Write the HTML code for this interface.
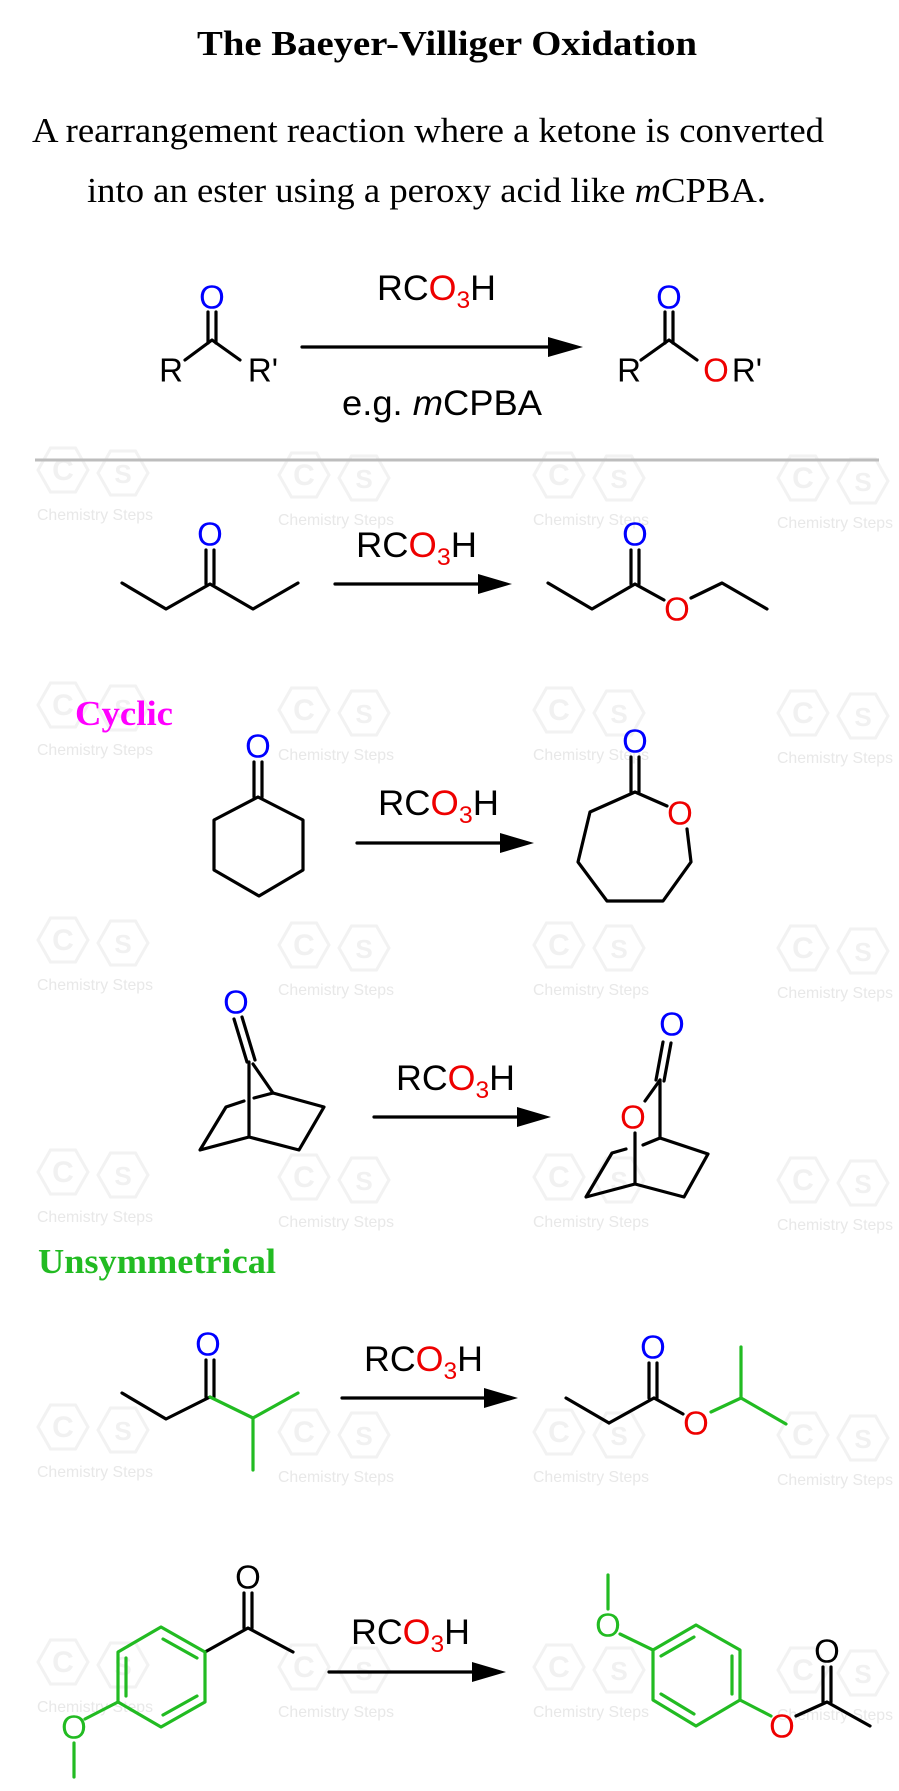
<!DOCTYPE html>
<html><head><meta charset="utf-8"><style>html,body{margin:0;padding:0;background:#fff}svg{display:block}</style></head>
<body>
<svg width="899" height="1791" viewBox="0 0 899 1791" xmlns="http://www.w3.org/2000/svg">
<defs>
<g id="wm">
<polygon points="-25,0 -12.5,-22 12.5,-22 25,0 12.5,22 -12.5,22" transform="translate(26,-50)" fill="none" stroke="#f2f2f2" stroke-width="3"/>
<polygon points="-25,0 -12.5,-22 12.5,-22 25,0 12.5,22 -12.5,22" transform="translate(86,-47)" fill="none" stroke="#f2f2f2" stroke-width="3"/>
<text x="26" y="-40" font-family="Liberation Sans, sans-serif" font-size="30" font-weight="bold" fill="#f1f1f1" text-anchor="middle">C</text>
<text x="86" y="-37" font-family="Liberation Sans, sans-serif" font-size="26" font-weight="bold" fill="#f1f1f1" text-anchor="middle">S</text>
<text x="0" y="0" font-family="Liberation Sans, sans-serif" font-size="16" fill="#e8e8e8" textLength="116" lengthAdjust="spacingAndGlyphs">Chemistry Steps</text>
</g>
</defs>
<g>
<use href="#wm" x="37" y="520"/><use href="#wm" x="278" y="525"/><use href="#wm" x="533" y="525"/><use href="#wm" x="777" y="528"/>
<use href="#wm" x="37" y="755"/><use href="#wm" x="278" y="760"/><use href="#wm" x="533" y="760"/><use href="#wm" x="777" y="763"/>
<use href="#wm" x="37" y="990"/><use href="#wm" x="278" y="995"/><use href="#wm" x="533" y="995"/><use href="#wm" x="777" y="998"/>
<use href="#wm" x="37" y="1222"/><use href="#wm" x="278" y="1227"/><use href="#wm" x="533" y="1227"/><use href="#wm" x="777" y="1230"/>
<use href="#wm" x="37" y="1477"/><use href="#wm" x="278" y="1482"/><use href="#wm" x="533" y="1482"/><use href="#wm" x="777" y="1485"/>
<use href="#wm" x="37" y="1712"/><use href="#wm" x="278" y="1717"/><use href="#wm" x="533" y="1717"/><use href="#wm" x="777" y="1720"/>
</g>

<text x="447" y="55" font-family="Liberation Serif, serif" font-weight="bold" font-size="35" text-anchor="middle" textLength="500" lengthAdjust="spacingAndGlyphs">The Baeyer-Villiger Oxidation</text>
<text x="32" y="142" font-family="Liberation Serif, serif" font-size="35" textLength="792" lengthAdjust="spacingAndGlyphs">A rearrangement reaction where a ketone is converted</text>
<text x="87" y="202" font-family="Liberation Serif, serif" font-size="35" textLength="679" lengthAdjust="spacingAndGlyphs">into an ester using a peroxy acid like <tspan font-style="italic">m</tspan>CPBA.</text>

<line x1="35" y1="460" x2="879" y2="460" stroke="#bdbdbd" stroke-width="3"/>

<g stroke="#000" stroke-width="3.2" fill="none" stroke-linecap="round" stroke-linejoin="round">
<line x1="208" y1="312" x2="208" y2="343"/><line x1="216" y1="312" x2="216" y2="343"/>
<polyline points="185,360 212,340 240,360"/>
<line x1="665" y1="312" x2="665" y2="343"/><line x1="673" y1="312" x2="673" y2="343"/>
<polyline points="641,360 669,340 697,360"/>
<line x1="302" y1="347" x2="560" y2="347"/>
<line x1="206" y1="550" x2="206" y2="584"/><line x1="214" y1="550" x2="214" y2="584"/>
<polyline points="122,583 166,609 210,584 253,609 298,583"/>
<line x1="631" y1="550" x2="631" y2="584"/><line x1="639" y1="550" x2="639" y2="584"/>
<polyline points="548,583 592,609 635,584 664,600"/>
<polyline points="691,598 722,583 767,609"/>
<line x1="335" y1="584" x2="490" y2="584"/>
<line x1="254" y1="762" x2="254" y2="797"/><line x1="262" y1="762" x2="262" y2="797"/>
<polygon points="258,797 303,820 303,870 259,896 214,870 214,820"/>
<line x1="357" y1="843" x2="512" y2="843"/>
<line x1="631" y1="757" x2="631" y2="792"/><line x1="639" y1="757" x2="639" y2="792"/>
<polyline points="667,806 635,792 590,812 578,862 607,901 663,901 691,862 687,829"/>
<line x1="234" y1="1019" x2="247" y2="1062"/><line x1="242" y1="1017" x2="255" y2="1060"/>
<line x1="249" y1="1062" x2="249" y2="1137"/>
<line x1="253" y1="1064" x2="273" y2="1093"/>
<polyline points="273,1093 324,1107 299,1150 249,1137 200,1150 226,1107 244,1101"/>
<line x1="254" y1="1098" x2="273" y2="1093"/>
<line x1="374" y1="1117" x2="530" y2="1117"/>
<line x1="663" y1="1042" x2="656" y2="1080"/><line x1="671" y1="1043" x2="664" y2="1081"/>
<line x1="660" y1="1080" x2="645" y2="1101"/>
<line x1="660" y1="1080" x2="660" y2="1138"/>
<polyline points="660,1138 708,1154 684,1197 635,1184 586,1197 612,1153 626,1149"/>
<line x1="643" y1="1145" x2="660" y2="1138"/>
<line x1="635" y1="1133" x2="635" y2="1184"/>
<line x1="206" y1="1360" x2="206" y2="1397"/><line x1="214" y1="1360" x2="214" y2="1397"/>
<polyline points="122,1393 166,1419 210,1397"/>
<line x1="566" y1="1398" x2="609" y2="1423"/><line x1="609" y1="1423" x2="654" y2="1398"/>
<line x1="649" y1="1363" x2="649" y2="1398"/><line x1="657" y1="1363" x2="657" y2="1398"/>
<line x1="654" y1="1398" x2="683" y2="1414"/>
<line x1="342" y1="1398" x2="496" y2="1398"/>
<line x1="244" y1="1593" x2="244" y2="1628"/><line x1="252" y1="1593" x2="252" y2="1628"/>
<polyline points="205,1652 248,1628 293,1652"/>
<line x1="329" y1="1672" x2="484" y2="1672"/>
<line x1="823" y1="1667" x2="823" y2="1702"/><line x1="831" y1="1667" x2="831" y2="1702"/>
<polyline points="796,1716 827,1702 870,1726"/>
</g>
<g stroke="#22bb22" stroke-width="3.2" fill="none" stroke-linecap="round" stroke-linejoin="round">
<polyline points="210,1397 253,1418 298,1393"/><line x1="253" y1="1418" x2="253" y2="1470"/>
<polyline points="711,1412 741,1398 786,1424"/><line x1="741" y1="1398" x2="741" y2="1347"/>
<polygon points="161,1627 205,1652 205,1702 161,1727 118,1702 118,1652"/>
<line x1="163" y1="1639" x2="197" y2="1658"/><line x1="197" y1="1696" x2="163" y2="1715"/><line x1="126" y1="1658" x2="126" y2="1696"/>
<line x1="118" y1="1702" x2="85" y2="1719"/><line x1="74" y1="1743" x2="74" y2="1777"/>
<polygon points="696,1625 740,1650 740,1700 696,1726 653,1700 653,1650"/>
<line x1="694" y1="1637" x2="661" y2="1656"/><line x1="732" y1="1656" x2="732" y2="1694"/><line x1="661" y1="1694" x2="694" y2="1714"/>
<line x1="653" y1="1650" x2="620" y2="1634"/><line x1="608" y1="1609" x2="608" y2="1575"/>
<line x1="740" y1="1700" x2="771" y2="1716"/>
</g>
<polygon points="583,347 548,337 548,357" fill="#000"/>
<polygon points="512,584 478,574 478,594" fill="#000"/>
<polygon points="534,843 500,833 500,853" fill="#000"/>
<polygon points="551,1117 517,1107 517,1127" fill="#000"/>
<polygon points="518,1398 484,1388 484,1408" fill="#000"/>
<polygon points="506,1672 472,1662 472,1682" fill="#000"/>

<g font-family="Liberation Sans, sans-serif" font-size="33" text-anchor="middle" dominant-baseline="central">
<text x="212" y="297" fill="#00f">O</text>
<text x="171" y="370" fill="#000">R</text>
<text x="263" y="370" fill="#000">R'</text>
<text x="669" y="297" fill="#00f">O</text>
<text x="629" y="370" fill="#000">R</text>
<text x="716" y="370" fill="#e00">O</text><text x="747" y="370" fill="#000">R'</text>
<text x="210" y="534" fill="#00f">O</text>
<text x="635" y="534" fill="#00f">O</text>
<text x="677" y="609" fill="#e00">O</text>
<text x="258" y="746" fill="#00f">O</text>
<text x="635" y="741" fill="#00f">O</text>
<text x="680" y="813" fill="#e00">O</text>
<text x="236" y="1002" fill="#00f">O</text>
<text x="672" y="1024" fill="#00f">O</text>
<text x="633" y="1117" fill="#e00">O</text>
<text x="208" y="1344" fill="#00f">O</text>
<text x="653" y="1347" fill="#00f">O</text>
<text x="696" y="1423" fill="#e00">O</text>
<text x="248" y="1577" fill="#000">O</text>
<text x="74" y="1727" fill="#22bb22">O</text>
<text x="608" y="1625" fill="#22bb22">O</text>
<text x="782" y="1726" fill="#e00">O</text>
<text x="827" y="1651" fill="#000">O</text>
</g>

<g font-family="Liberation Sans, sans-serif" font-size="35">
<text x="377" y="300" textLength="119" lengthAdjust="spacingAndGlyphs">RC<tspan fill="#e00">O</tspan><tspan fill="#e00" font-size="24" dy="8">3</tspan><tspan dy="-8">H</tspan></text>
<text x="342" y="415" textLength="200" lengthAdjust="spacingAndGlyphs">e.g. <tspan font-style="italic">m</tspan>CPBA</text>
<text x="356" y="557" textLength="121" lengthAdjust="spacingAndGlyphs">RC<tspan fill="#e00">O</tspan><tspan fill="#e00" font-size="24" dy="8">3</tspan><tspan dy="-8">H</tspan></text>
<text x="378" y="815" textLength="121" lengthAdjust="spacingAndGlyphs">RC<tspan fill="#e00">O</tspan><tspan fill="#e00" font-size="24" dy="8">3</tspan><tspan dy="-8">H</tspan></text>
<text x="396" y="1090" textLength="119" lengthAdjust="spacingAndGlyphs">RC<tspan fill="#e00">O</tspan><tspan fill="#e00" font-size="24" dy="8">3</tspan><tspan dy="-8">H</tspan></text>
<text x="364" y="1371" textLength="119" lengthAdjust="spacingAndGlyphs">RC<tspan fill="#e00">O</tspan><tspan fill="#e00" font-size="24" dy="8">3</tspan><tspan dy="-8">H</tspan></text>
<text x="351" y="1644" textLength="119" lengthAdjust="spacingAndGlyphs">RC<tspan fill="#e00">O</tspan><tspan fill="#e00" font-size="24" dy="8">3</tspan><tspan dy="-8">H</tspan></text>
</g>

<text x="75" y="725" font-family="Liberation Serif, serif" font-weight="bold" font-size="35" fill="#f0f" textLength="98" lengthAdjust="spacingAndGlyphs">Cyclic</text>
<text x="38" y="1273" font-family="Liberation Serif, serif" font-weight="bold" font-size="35" fill="#22bb22" textLength="238" lengthAdjust="spacingAndGlyphs">Unsymmetrical</text>
</svg>
</body></html>
